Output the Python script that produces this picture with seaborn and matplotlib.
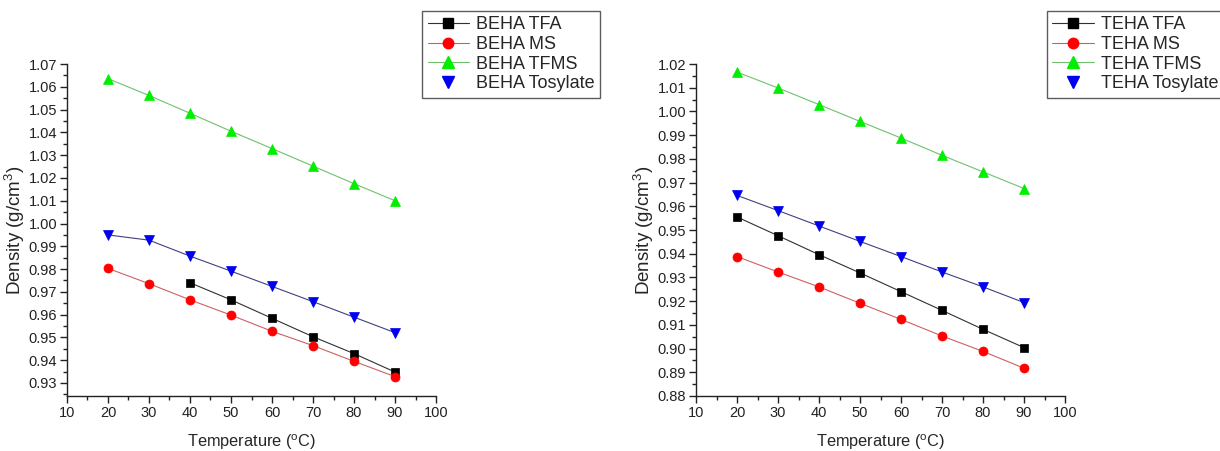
import numpy as np
import pandas as pd
import matplotlib
matplotlib.use("Agg")
import matplotlib.pyplot as plt
from matplotlib.lines import Line2D
from matplotlib.ticker import MultipleLocator, FormatStrFormatter
import seaborn as sns

sns.set_theme(style="ticks")
plt.rcParams['font.family'] = ['Liberation Sans', 'DejaVu Sans']
plt.rcParams['mathtext.fontset'] = 'custom'
plt.rcParams['mathtext.rm'] = 'Liberation Sans'
plt.rcParams['mathtext.it'] = 'Liberation Sans:italic'

# ---- data ----
temps = [20, 30, 40, 50, 60, 70, 80, 90]
temps_tfa_beha = [40, 50, 60, 70, 80, 90]

beha_tfa = [0.9740, 0.9665, 0.9584, 0.9503, 0.9429, 0.9348]
beha_ms = [0.9803, 0.9736, 0.9665, 0.9598, 0.9527, 0.9464, 0.9395, 0.9328]
beha_tfms = [1.0636, 1.0562, 1.0484, 1.0405, 1.0329, 1.0252, 1.0175, 1.0100]
beha_tos = [0.9950, 0.9927, 0.9857, 0.9791, 0.9724, 0.9657, 0.9589, 0.9521]

teha_tfa = [0.9555, 0.9476, 0.9396, 0.9319, 0.9240, 0.9161, 0.9081, 0.9004]
teha_ms = [0.9388, 0.9323, 0.9260, 0.9191, 0.9123, 0.9053, 0.8988, 0.8917]
teha_tfms = [1.0166, 1.0099, 1.0029, 0.9958, 0.9888, 0.9815, 0.9745, 0.9675]
teha_tos = [0.9646, 0.9582, 0.9517, 0.9452, 0.9388, 0.9323, 0.9260, 0.9194]

left_labels = ["BEHA TFA", "BEHA MS", "BEHA TFMS", "BEHA Tosylate"]
right_labels = ["TEHA TFA", "TEHA MS", "TEHA TFMS", "TEHA Tosylate"]
x_ticks = [10, 20, 30, 40, 50, 60, 70, 80, 90, 100]

colors = ["#000000", "#ff0000", "#00ee00", "#0000ee"]
line_colors = ["#303030", "#d06060", "#70c070", "#404080"]
markers = ["s", "o", "^", "v"]
msizes = [5.5, 6.5, 7.5, 7.5]

fig = plt.figure(figsize=(12.2, 4.51), dpi=100)
axL = fig.add_axes([0.0549, 0.122, 0.3025, 0.736])
axR = fig.add_axes([0.5705, 0.122, 0.3025, 0.736])

def draw(ax, xs_list, ys_list, ylim):
    for i, (xs, ys) in enumerate(zip(xs_list, ys_list)):
        df = pd.DataFrame({"T": xs, "D": ys})
        sns.lineplot(data=df, x="T", y="D", ax=ax, color=line_colors[i],
                     linewidth=0.8, marker=markers[i], markersize=msizes[i],
                     markerfacecolor=colors[i], markeredgecolor=colors[i],
                     markeredgewidth=0.5, zorder=3 + i)
    ax.set_xlim(10, 100)
    ax.set_ylim(*ylim)
    ax.set_xticks(x_ticks)
    ax.xaxis.set_minor_locator(MultipleLocator(5))
    ax.yaxis.set_major_locator(MultipleLocator(0.01))
    ax.yaxis.set_minor_locator(MultipleLocator(0.005))
    ax.yaxis.set_major_formatter(FormatStrFormatter('%.2f'))
    ax.tick_params(which='major', direction='out', length=5, width=1.0,
                   labelsize=10.5, colors='#222222', pad=2)
    ax.tick_params(which='minor', direction='out', length=3, width=1.0,
                   colors='#222222')
    for s in ['top', 'right']:
        ax.spines[s].set_visible(False)
    for s in ['left', 'bottom']:
        ax.spines[s].set_color('#222222')
        ax.spines[s].set_linewidth(1.0)
    ax.set_xlabel(r"Temperature ($\mathregular{^o}$C)", fontsize=11.8, labelpad=9)
    ax.set_ylabel(r"Density (g/cm$\mathregular{^3}$)", fontsize=13.5, labelpad=1)

draw(axL, [temps_tfa_beha, temps, temps, temps],
     [beha_tfa, beha_ms, beha_tfms, beha_tos], (0.9243, 1.07))
draw(axR, [temps, temps, temps, temps],
     [teha_tfa, teha_ms, teha_tfms, teha_tos], (0.88, 1.02))

def make_handles(labels):
    hs = []
    for i, lab in enumerate(labels):
        ls = '-' if i < 3 else 'None'
        hs.append(Line2D([0], [0], color=line_colors[i], linewidth=0.8,
                         linestyle=ls, marker=markers[i], markersize=msizes[i] + 1,
                         markerfacecolor=colors[i], markeredgecolor=colors[i],
                         label=lab))
    return hs

for labels, anchor in [(left_labels, (0.346, 0.976)), (right_labels, (0.858, 0.976))]:
    leg = fig.legend(handles=make_handles(labels), loc='upper left',
                     bbox_to_anchor=anchor, borderaxespad=0, fontsize=13,
                     frameon=True, fancybox=False, handlelength=2.3,
                     handletextpad=0.4, labelspacing=0.15, borderpad=0.3)
    leg.get_frame().set_edgecolor('#333333')
    leg.get_frame().set_linewidth(1.0)

fig.savefig("out.png", dpi=100)
